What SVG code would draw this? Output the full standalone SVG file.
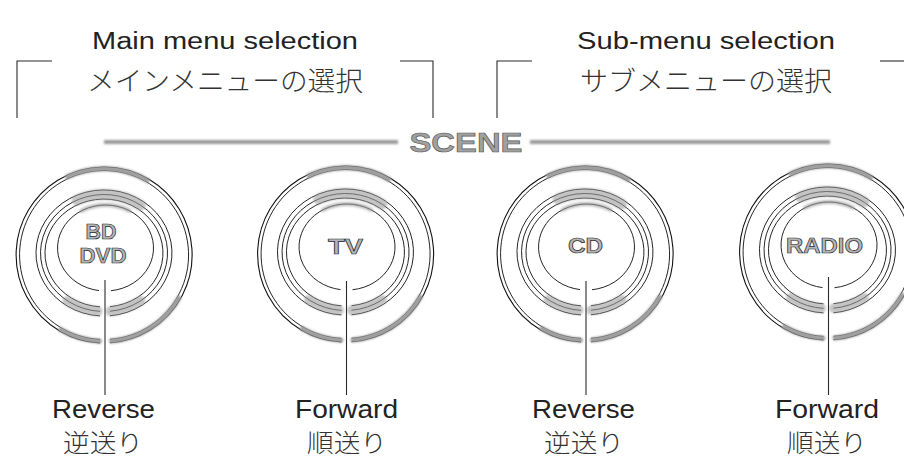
<svg xmlns="http://www.w3.org/2000/svg" width="904" height="459" viewBox="0 0 904 459">
  <style>
    .en { font-family: "Liberation Sans", Arial, sans-serif; fill: #222; }
    .jp { font-family: "Noto Sans CJK JP", "Noto Sans CJK SC", sans-serif; fill: #333; font-weight: 300; }
    .ln { fill: none; stroke: #2a2a2a; stroke-width: 1.1; }
    .rg { fill: none; stroke: #111; stroke-width: 1.1; }
    .rg2 { fill: none; stroke: #1a1a1a; stroke-width: 0.95; }
    .band { fill: none; stroke: #9c9c9c; stroke-linecap: round; filter: url(#soft); }
    .kl { font-family: "Liberation Sans", Arial, sans-serif; font-weight: bold; font-size: 22px; fill: #b4b4b4; stroke: #2a2a2a; stroke-width: 0.7; text-anchor: middle; }
    .bar { fill: none; stroke: #9a9a9a; stroke-width: 4; filter: url(#soft); }
  </style>
  <defs>
    <filter id="soft" filterUnits="userSpaceOnUse" x="-1000" y="-1000" width="3000" height="3000">
      <feGaussianBlur stdDeviation="1.1"/>
    </filter>
    <g id="knob">
      <path class="rg" d="M 6 87.8 A 88 88 0 1 0 -4 87.9"/>
      <path class="rg2" d="M 6 84.29 A 84.5 84.5 0 1 0 -4 84.4"/>
      <path class="band" stroke-width="5" d="M -36.5 -78.2 A 86.3 86.3 0 0 1 43.2 -74.7"/>
      <path class="band" stroke-width="5" d="M 74.7 43.2 A 86.3 86.3 0 0 1 7.5 86"/>
      <path class="band" stroke-width="5" d="M -4.5 86.2 A 86.3 86.3 0 0 1 -43.2 74.7"/>
      <path class="rg2" d="M 6 60.75 A 68 63 0 1 0 -4 60.89"/>
      <path class="rg2" d="M 6 56.24 A 63.5 58.5 0 1 0 -4 56.38"/>
      <path class="rg2" d="M 6 51.72 A 59 54 0 1 0 -4 51.88"/>
      <path class="band" stroke-width="11" opacity="0.6" d="M -26.8 -55 A 63.5 58.5 0 0 1 36.4 -49.9"/>
      <path class="band" stroke-width="10" opacity="0.6" d="M 36.4 45.9 A 63.5 58.5 0 0 1 6.6 56.2"/>
      <path class="band" stroke-width="10" opacity="0.6" d="M -6.6 56.2 A 63.5 58.5 0 0 1 -36.4 45.9"/>
      <path class="rg2" d="M 7 35.72 A 48 43 0 1 0 -5 35.6"/>
      <path class="band" stroke-width="4" opacity="0.7" d="M -22.5 -44.2 A 48 43 0 0 1 25.5 -44.2"/>
    </g>
  </defs>

  <g id="header-main">
    <text class="en" x="225" y="49" font-size="23" text-anchor="middle" textLength="266" lengthAdjust="spacingAndGlyphs">Main menu selection</text>
    <text class="jp" x="225" y="91" font-size="27" text-anchor="middle" textLength="276" lengthAdjust="spacingAndGlyphs">メインメニューの選択</text>
  </g>
  <g id="header-sub">
    <text class="en" x="706" y="49" font-size="23" text-anchor="middle" textLength="258" lengthAdjust="spacingAndGlyphs">Sub-menu selection</text>
    <text class="jp" x="706" y="91" font-size="27" text-anchor="middle" textLength="252" lengthAdjust="spacingAndGlyphs">サブメニューの選択</text>
  </g>

  <g id="scene">
    <line class="bar" x1="104" y1="142" x2="398" y2="142"/>
    <line class="bar" x1="530" y1="142" x2="830" y2="142"/>
    <text x="466" y="152" font-family="Liberation Sans, Arial, sans-serif" font-weight="bold" font-size="27" fill="#a0a0a0" stroke="#555" stroke-width="0.6" text-anchor="middle" textLength="113" lengthAdjust="spacingAndGlyphs">SCENE</text>
  </g>

  <g id="knob-bd-dvd" transform="translate(104,255)">
    <use href="#knob"/>
    <text class="kl" x="-3" y="-16" textLength="31" lengthAdjust="spacingAndGlyphs" stroke="#777">BD</text>
    <text class="kl" x="-1" y="8" textLength="47" lengthAdjust="spacingAndGlyphs" stroke="#777">DVD</text>
  </g>
  <g id="knob-tv" transform="translate(345.5,254)">
    <use href="#knob"/>
    <text class="kl" x="0" y="0" textLength="35" lengthAdjust="spacingAndGlyphs">TV</text>
  </g>
  <g id="knob-cd" transform="translate(585,254)">
    <use href="#knob"/>
    <text class="kl" x="0.5" y="-1" textLength="35" lengthAdjust="spacingAndGlyphs">CD</text>
  </g>
  <g id="knob-radio" transform="translate(827.5,252)">
    <use href="#knob"/>
    <text class="kl" x="-3" y="1" textLength="77" lengthAdjust="spacingAndGlyphs">RADIO</text>
  </g>

  <g id="connectors">
    <path class="ln" d="M17,118 V61 H52"/>
    <path class="ln" d="M400,61 H433 V118"/>
    <path class="ln" d="M497,118 V61 H532"/>
    <path class="ln" d="M880,61 H904"/>
    <line class="ln" x1="105" y1="280" x2="105" y2="395"/>
    <line class="ln" x1="346.5" y1="281" x2="346.5" y2="395"/>
    <line class="ln" x1="586" y1="281" x2="586" y2="395"/>
    <line class="ln" x1="828.5" y1="277" x2="828.5" y2="395"/>
  </g>

  <g id="label-reverse-1">
    <text class="en" x="103.5" y="418" font-size="26" text-anchor="middle" textLength="103" lengthAdjust="spacingAndGlyphs">Reverse</text>
    <text class="jp" x="103" y="452" font-size="25" text-anchor="middle" textLength="80" lengthAdjust="spacingAndGlyphs">逆送り</text>
  </g>
  <g id="label-forward-1">
    <text class="en" x="346.5" y="418" font-size="26" text-anchor="middle" textLength="103" lengthAdjust="spacingAndGlyphs">Forward</text>
    <text class="jp" x="347" y="452" font-size="25" text-anchor="middle" textLength="80" lengthAdjust="spacingAndGlyphs">順送り</text>
  </g>
  <g id="label-reverse-2">
    <text class="en" x="583.5" y="418" font-size="26" text-anchor="middle" textLength="103" lengthAdjust="spacingAndGlyphs">Reverse</text>
    <text class="jp" x="584" y="452" font-size="25" text-anchor="middle" textLength="80" lengthAdjust="spacingAndGlyphs">逆送り</text>
  </g>
  <g id="label-forward-2">
    <text class="en" x="827" y="418" font-size="26" text-anchor="middle" textLength="104" lengthAdjust="spacingAndGlyphs">Forward</text>
    <text class="jp" x="827" y="452" font-size="25" text-anchor="middle" textLength="80" lengthAdjust="spacingAndGlyphs">順送り</text>
  </g>
</svg>
